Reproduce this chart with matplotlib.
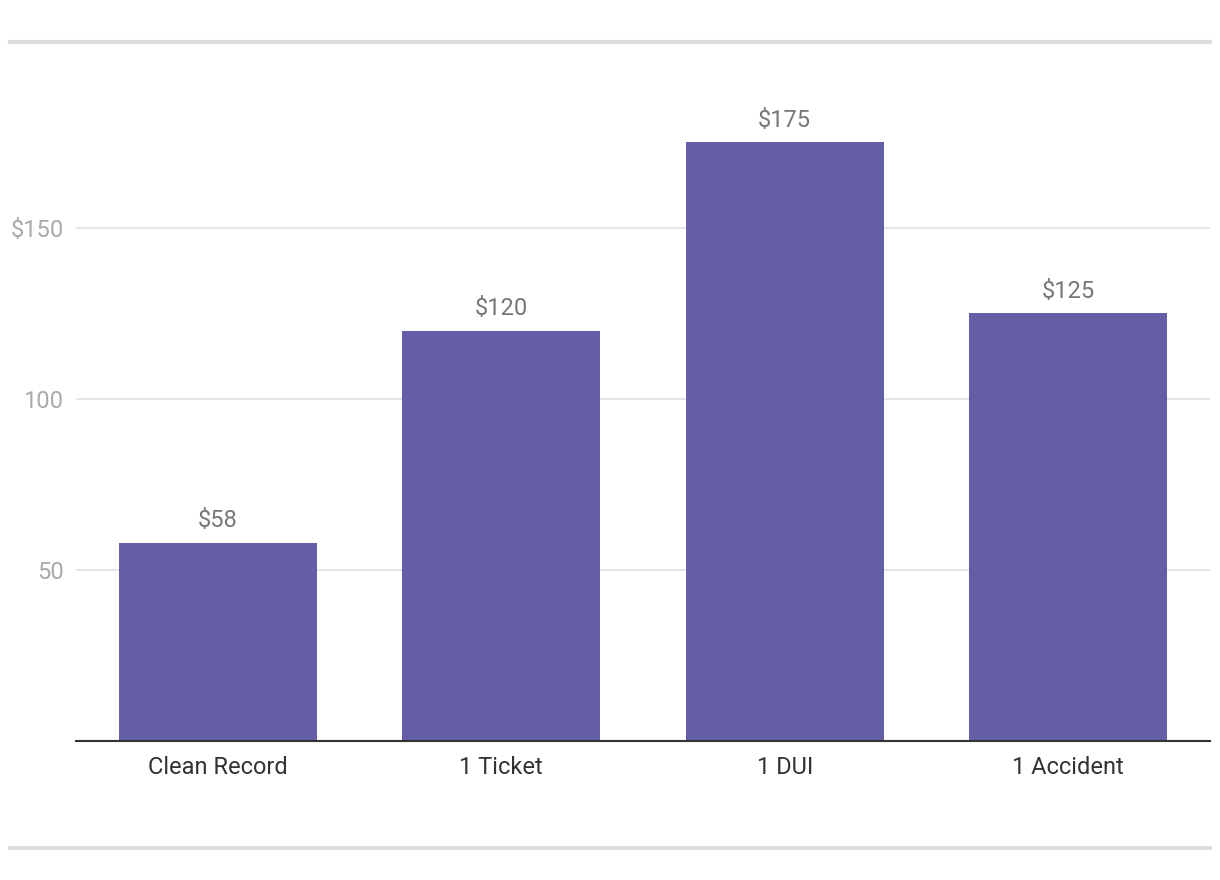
import matplotlib.pyplot as plt
from matplotlib.lines import Line2D

plt.rcParams['font.family'] = ['Roboto', 'DejaVu Sans']

categories = ['Clean Record', '1 Ticket', '1 DUI', '1 Accident']
values = [58, 120, 175, 125]
yticks = [50, 100, 150]
ytick_labels = ['50', '100', '$150']

bar_color = '#635ea6'

fig = plt.figure(figsize=(12.2, 8.8), dpi=100)
# axes: x 76..1210 px, y=0 at 741 px, 3.42 px per unit
ymax = 190
ax = fig.add_axes([76 / 1220, (880 - 741) / 880, 1134 / 1220, ymax * 3.42 / 880])

x = range(len(categories))
ax.bar(x, values, width=0.7, color=bar_color, zorder=2)
for xi, v in zip(x, values):
    ax.annotate('$%d' % v, (xi, v), xytext=(0, 7.5), textcoords='offset points',
                ha='center', va='bottom', fontsize=17, color='#777777')

ax.set_xlim(-0.5, len(categories) - 0.5)
ax.set_ylim(0, ymax)
ax.set_yticks(yticks)
ax.set_yticklabels(ytick_labels)
ax.set_xticks(list(x))
ax.set_xticklabels(categories)
ax.tick_params(axis='y', length=0, pad=9, labelsize=17, labelcolor='#aaaaaa')
ax.tick_params(axis='x', length=0, pad=10.5, labelsize=17, labelcolor='#333333')
ax.grid(axis='y', color='#e0e0e0', linewidth=1.2, zorder=0)
for s in ['top', 'right', 'left']:
    ax.spines[s].set_visible(False)
ax.spines['bottom'].set_color('#333333')
ax.spines['bottom'].set_linewidth(1.5)
ax.spines['bottom'].set_zorder(3)

# gray rules above and below the chart
for ypix in [42, 848]:
    yf = 1 - ypix / 880
    fig.add_artist(Line2D([10 / 1220, 1210 / 1220], [yf, yf], color='#dddddd',
                          linewidth=3, transform=fig.transFigure))

fig.savefig('out.png', dpi=100, facecolor='white')
